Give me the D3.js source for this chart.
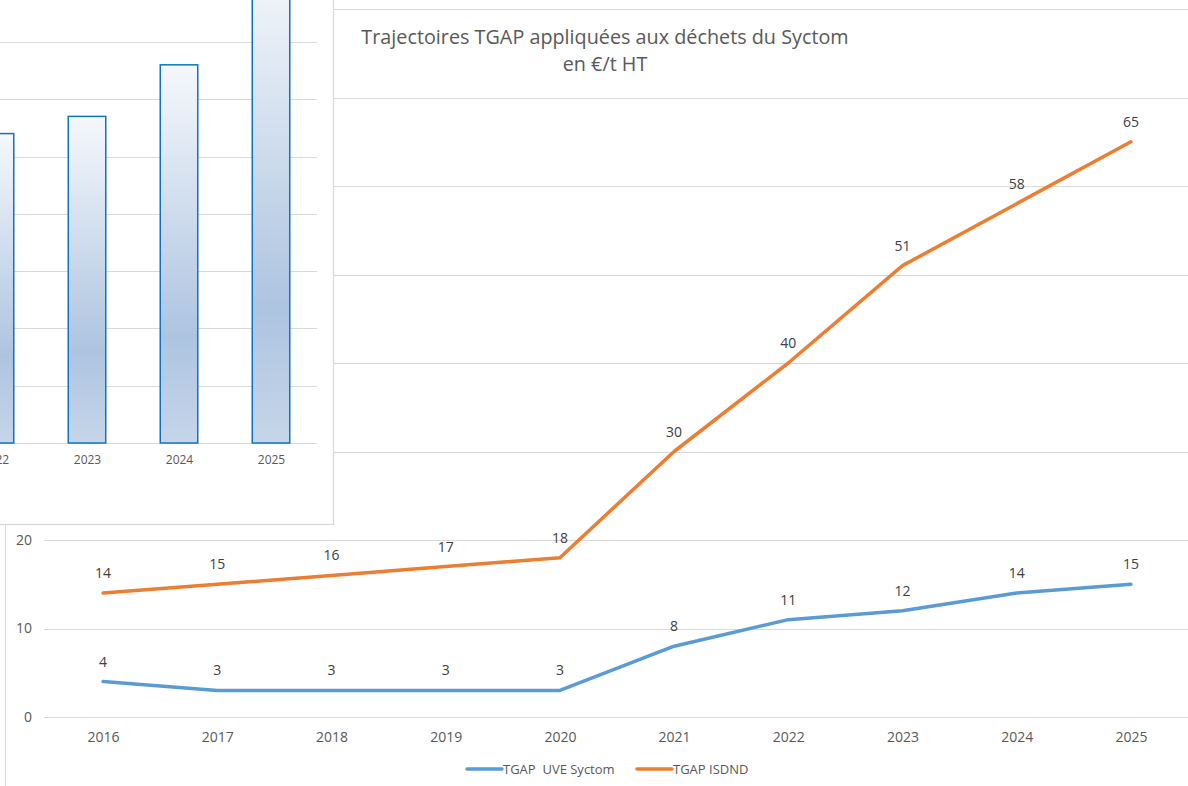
<!DOCTYPE html>
<html>
<head>
<meta charset="utf-8">
<script src="https://cdn.jsdelivr.net/npm/d3@7"></script>
<style>
  html, body { margin: 0; padding: 0; background: #fff; }
  svg { display: block; font-family: "Open Sans", sans-serif; }
</style>
</head>
<body>
<div id="chart"></div>
<script>
// main chart data (€/t HT)
const years = ["2016", "2017", "2018", "2019", "2020", "2021", "2022", "2023", "2024", "2025"];
const uveSyctom = [4, 3, 3, 3, 3, 8, 11, 12, 14, 15];
const isdnd = [14, 15, 16, 17, 18, 30, 40, 51, 58, 65];
const yTicks = [0, 10, 20, 30, 40, 50, 60, 70, 80];
const seriesNames = ["TGAP  UVE Syctom", "TGAP ISDND"];
const titleLines = ["Trajectoires TGAP appliquées aux déchets du Syctom", "en €/t HT"];

// inset bar chart (partly cut off in the picture)
const insetYears = ["2022", "2023", "2024", "2025"];
const insetValues = [54, 57, 66, 84];
const insetTicks = [0, 10, 20, 30, 40, 50, 60, 70, 80];

const width = 1188, height = 786;
const blue = "#5b9bd5", orange = "#ed7d31", grid = "#d9d9d9";

const svg = d3.select("#chart").append("svg")
  .attr("width", width)
  .attr("height", height);

// === main chart frame ===
svg.append("rect")
  .attr("x", 5.5).attr("y", -20)
  .attr("width", width + 20).attr("height", height + 40)
  .attr("fill", "#fff")
  .attr("stroke", grid);

const x = d3.scalePoint().domain(years).range([46, 1188]).padding(0.5);
const y = d3.scaleLinear().domain([0, 80]).range([717, 9]);

// gridlines
svg.append("g")
  .selectAll("line")
  .data(yTicks)
  .join("line")
  .attr("x1", 44).attr("x2", width)
  .attr("y1", d => Math.round(y(d)) + 0.5)
  .attr("y2", d => Math.round(y(d)) + 0.5)
  .attr("stroke", grid)
  .attr("stroke-width", 1.2);

// y labels
const yAxis = svg.append("g")
  .attr("transform", "translate(44,0)")
  .call(d3.axisLeft(y).tickValues(yTicks).tickSize(0).tickPadding(12));
yAxis.select(".domain").remove();
yAxis.selectAll("text").attr("font-size", 14).attr("fill", "#595959").attr("font-family", "Open Sans");

// x labels
const xAxis = svg.append("g")
  .attr("transform", "translate(0,717)")
  .call(d3.axisBottom(x).tickSize(0).tickPadding(15));
xAxis.select(".domain").remove();
xAxis.selectAll("text").attr("font-size", 14).attr("fill", "#595959").attr("font-family", "Open Sans");

// lines
const series = [
  { name: seriesNames[0], values: uveSyctom, color: blue },
  { name: seriesNames[1], values: isdnd, color: orange }
];

const line = d3.line()
  .x((d, i) => x(years[i]))
  .y(d => y(d));

svg.append("g")
  .selectAll("path")
  .data(series)
  .join("path")
  .attr("d", d => line(d.values))
  .attr("fill", "none")
  .attr("stroke", d => d.color)
  .attr("stroke-width", 3.5)
  .attr("stroke-linejoin", "round")
  .attr("stroke-linecap", "round");

// data labels
series.forEach(s => {
  svg.append("g")
    .selectAll("text")
    .data(s.values)
    .join("text")
    .attr("x", (d, i) => x(years[i]))
    .attr("y", d => y(d) - 15)
    .attr("text-anchor", "middle")
    .attr("font-size", 14)
    .attr("fill", "#404040")
    .text(d => d);
});

// title
svg.append("g")
  .selectAll("text")
  .data(titleLines)
  .join("text")
  .attr("x", 605)
  .attr("y", (d, i) => 44 + i * 27)
  .attr("text-anchor", "middle")
  .attr("font-size", 19.8)
  .attr("fill", "#595959")
  .text(d => d);

// legend
const legendItems = [
  { name: seriesNames[0], color: blue, x: 467 },
  { name: seriesNames[1], color: orange, x: 637 }
];
const legend = svg.append("g")
  .selectAll("g")
  .data(legendItems)
  .join("g")
  .attr("transform", d => `translate(${d.x},769)`);
legend.append("line")
  .attr("x1", 0).attr("x2", 35)
  .attr("stroke", d => d.color)
  .attr("stroke-width", 3.5)
  .attr("stroke-linecap", "round");
legend.append("text")
  .attr("x", 36)
  .attr("dy", "0.35em")
  .attr("font-size", 13)
  .attr("fill", "#595959")
  .style("white-space", "pre")
  .text(d => d.name);

// === inset bar chart on top ===
const inset = svg.append("g");

inset.append("rect")
  .attr("x", -20).attr("y", -20)
  .attr("width", 353.5).attr("height", 544.5)
  .attr("fill", "#fff")
  .attr("stroke", grid)
  .attr("stroke-width", 1.3);

const ix = d3.scalePoint().domain(insetYears).range([-51, 317]).padding(0.5);
const iy = d3.scaleLinear().domain([0, 80]).range([443, 443 - 8 * 57.3]);

inset.append("g")
  .selectAll("line")
  .data(insetTicks)
  .join("line")
  .attr("x1", -20).attr("x2", 317)
  .attr("y1", d => Math.round(iy(d)) + 0.5)
  .attr("y2", d => Math.round(iy(d)) + 0.5)
  .attr("stroke", grid)
  .attr("stroke-width", 1.2);

const defs = svg.append("defs");
const grad = defs.append("linearGradient")
  .attr("id", "barGrad")
  .attr("x1", 0).attr("y1", 0).attr("x2", 0).attr("y2", 1);
grad.append("stop").attr("offset", "0%").attr("stop-color", "#f5f8fc");
grad.append("stop").attr("offset", "72%").attr("stop-color", "#adc4e0");
grad.append("stop").attr("offset", "100%").attr("stop-color", "#c6d6ea");

const barW = 37.5;
inset.append("g")
  .selectAll("rect")
  .data(insetValues)
  .join("rect")
  .attr("x", (d, i) => ix(insetYears[i]) - barW / 2)
  .attr("y", d => iy(d))
  .attr("width", barW)
  .attr("height", d => iy(0) - iy(d))
  .attr("fill", "url(#barGrad)")
  .attr("stroke", "#0f73c3")
  .attr("stroke-width", 1.5);

const insetAxis = inset.append("g")
  .attr("transform", "translate(0,443)")
  .call(d3.axisBottom(ix).tickSize(0).tickPadding(12));
insetAxis.select(".domain").remove();
insetAxis.selectAll("text").attr("font-size", 12).attr("fill", "#595959").attr("font-family", "Open Sans");
</script>
</body>
</html>
